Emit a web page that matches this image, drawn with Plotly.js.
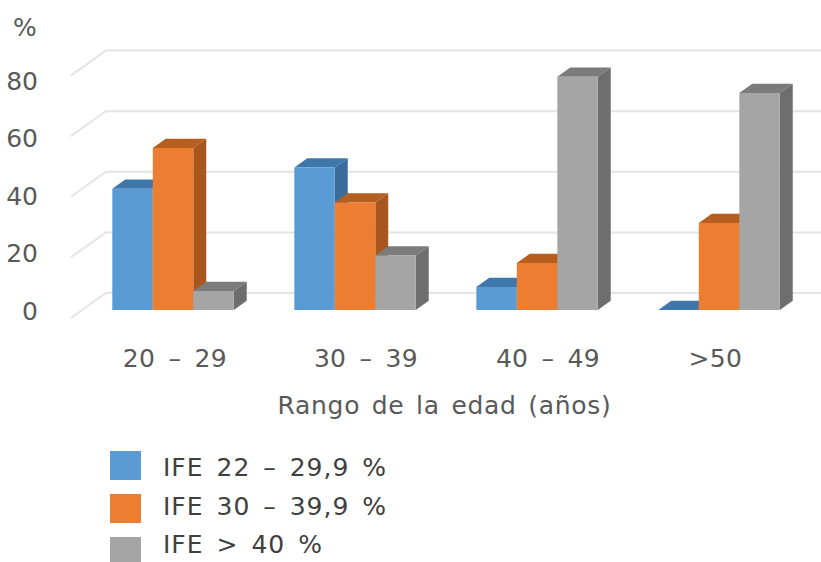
<!DOCTYPE html>
<html>
<head>
<meta charset="utf-8">
<script src="https://cdn.plot.ly/plotly-3.0.1.min.js"></script>
<style>
html,body{margin:0;padding:0;background:#fff;overflow:hidden}
/* Wide tracking for the chart's labels */
.xtick text{letter-spacing:0.3px;word-spacing:5px}
.annotation-text{letter-spacing:1px;word-spacing:4px}
.xtitle{letter-spacing:0.7px;word-spacing:3px;translate:11px 0}
</style>
</head>
<body>
<div id="chart" style="width:821px;height:562px"></div>
<script>
// Age ranges and share of patients per IFE band
const categories = ['20 – 29', '30 – 39', '40 – 49', '>50'];
const ifeLow = [40, 47, 7.6, 0];
const ifeMid = [53.5, 35.5, 15.5, 28.7];
const ifeHigh = [6.3, 18, 77, 71.6];
const seriesNames = ['IFE 22 – 29,9 %', 'IFE 30 – 39,9 %', 'IFE > 40 %'];
const gridValues = [0, 20, 40, 60, 80];

const frontColors = ['#5B9BD5', '#ED7D31', '#A5A5A5'];
const topColors = ['#3F77AB', '#B65E20', '#7B7B7B'];
const sideColors = ['#3A6C9C', '#A8561E', '#6E6E6E'];

// Extruded-column geometry, in axis units
const barW = 0.2225;
const groupW = barW * 3;
const depthX = 0.192;     // x shift across the full floor depth
const depthY = 8.25;      // value shift across the full floor depth
const zBar = 0.32;        // depth of the column front faces
const zBack = 0.69;       // depth of the column back faces
const project = (x, v, z) => [x + (z - zBar) * depthX, v + (z - zBar) * depthY];

const pathOf = pts => 'M' + pts.map(p => p[0] + ',' + p[1]).join('L') + 'Z';
const shapes = [];

// Floor-to-wall gridlines
gridValues.forEach(v => {
  const a = project(-0.5, v, 0), b = project(-0.5, v, 1), c = project(3.7, v, 1);
  shapes.push({type: 'path', xref: 'x', yref: 'y', layer: 'below',
    path: 'M' + a.join(',') + 'L' + b.join(',') + 'L' + c.join(','),
    line: {color: '#E4E4E4', width: 2}});
});

// Top and side faces, painted from left to right so nearer columns overlap
const seriesValues = [ifeLow, ifeMid, ifeHigh];
categories.forEach((_, c) => {
  seriesValues.forEach((vals, s) => {
    const v = vals[c];
    const x0 = c - groupW / 2 + s * barW, x1 = x0 + barW;
    shapes.push({type: 'path', xref: 'x', yref: 'y', layer: 'below', line: {width: 0},
      fillcolor: sideColors[s],
      path: pathOf([project(x1, 0, zBar), project(x1, v, zBar), project(x1, v, zBack), project(x1, 0, zBack)])});
    shapes.push({type: 'path', xref: 'x', yref: 'y', layer: 'below', line: {width: 0},
      fillcolor: topColors[s],
      path: pathOf([project(x0, v, zBar), project(x1, v, zBar), project(x1, v, zBack), project(x0, v, zBack)])});
  });
});

// Legend swatches and labels under the plot
const textColor = '#404040';
const legendTops = [451, 494, 537];
const legendTextY = [467, 506, 544];
const annotations = [];
const plotH = 335;
const toPaperY = px => 1 - px / plotH;
seriesNames.forEach((name, s) => {
  shapes.push({type: 'rect', xref: 'paper', yref: 'paper', layer: 'above', line: {width: 0},
    fillcolor: frontColors[s],
    x0: (110 - 46) / 775, x1: (141 - 46) / 775,
    y0: toPaperY(legendTops[s]), y1: toPaperY(legendTops[s] + 29)});
  annotations.push({xref: 'paper', yref: 'paper', x: (161 - 46) / 775, y: toPaperY(legendTextY[s]),
    xanchor: 'left', yanchor: 'middle', showarrow: false, text: name,
    font: {family: 'DejaVu Sans', size: 25, color: textColor}});
});
annotations.push({xref: 'paper', yref: 'paper', x: (25 - 46) / 775, y: toPaperY(27),
  xanchor: 'center', yanchor: 'middle', showarrow: false, text: '%',
  font: {family: 'DejaVu Sans', size: 25, color: '#595959'}});

const traces = seriesValues.map((vals, s) => ({
  type: 'bar', name: seriesNames[s], x: categories.map((_, i) => i), y: vals,
  width: barW, offset: -groupW / 2 + s * barW,
  marker: {color: frontColors[s], line: {width: 0}}, showlegend: false, hoverinfo: 'x+y'
}));
// Carries the value scale printed along the front edge of the floor
traces.push({type: 'scatter', mode: 'none', x: gridValues.map(() => 0), y: gridValues, yaxis: 'y2',
  showlegend: false, hoverinfo: 'skip'});

const layout = {
  width: 821, height: 562, autosize: false,
  margin: {l: 46, r: 0, t: 0, b: 562 - plotH, pad: 0},
  paper_bgcolor: '#fff', plot_bgcolor: '#fff',
  barmode: 'overlay', showlegend: false,
  xaxis: {
    range: [-0.698, 3.56], showgrid: false, zeroline: false, showline: false,
    tickmode: 'array', tickvals: [0.01, 1.06, 2.06, 2.98], ticktext: categories,
    ticks: 'outside', ticklen: 1, tickcolor: 'rgba(0,0,0,0)',
    tickfont: {family: 'DejaVu Sans', size: 25, color: '#595959'},
    title: {text: 'Rango de la edad (años)', standoff: 24,
      font: {family: 'DejaVu Sans', size: 25, color: '#595959'}}
  },
  yaxis: {range: [-8.25, 102.3], showgrid: false, zeroline: false, showline: false, showticklabels: false, ticks: ''},
  yaxis2: {
    overlaying: 'y', side: 'left', range: [-8.35, 108.17],
    showgrid: false, zeroline: false, showline: false,
    tickmode: 'array', tickvals: gridValues, ticks: 'outside', ticklen: 2, tickcolor: 'rgba(0,0,0,0)',
    tickfont: {family: 'DejaVu Sans', size: 25, color: '#595959'}
  },
  shapes, annotations
};

Plotly.newPlot('chart', traces, layout, {displayModeBar: false, responsive: false});
</script>
</body>
</html>
